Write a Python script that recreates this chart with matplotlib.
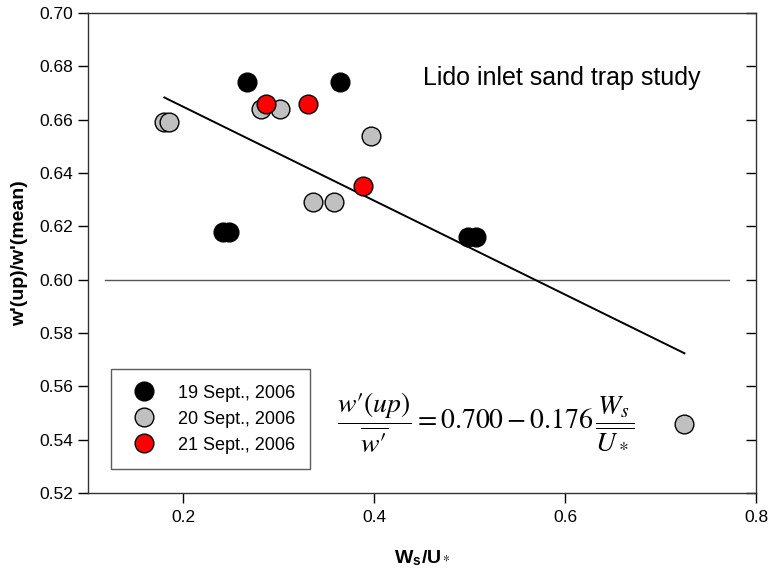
import numpy as np
import matplotlib
matplotlib.use("Agg")
import matplotlib.pyplot as plt

plt.rcParams['font.family'] = ['Liberation Sans', 'DejaVu Sans']
plt.rcParams['mathtext.fontset'] = 'stix'

# Data

x_19 = [0.267, 0.364, 0.241, 0.248, 0.498, 0.507]
y_19 = [0.674, 0.674, 0.618, 0.618, 0.616, 0.616]

x_20 = [0.180, 0.185, 0.281, 0.301, 0.397, 0.336, 0.358, 0.725]
y_20 = [0.659, 0.659, 0.664, 0.664, 0.654, 0.629, 0.629, 0.546]

x_21 = [0.286, 0.330, 0.388]
y_21 = [0.666, 0.666, 0.635]

labels = ["19 Sept., 2006", "20 Sept., 2006", "21 Sept., 2006"]

# Regression given on the chart
a = 0.700
b = -0.176
ref_level = 0.60

fig = plt.figure(figsize=(7.68, 5.75), dpi=100)
ax = fig.add_axes([0.1146, 0.1426, 0.8698, 0.8348])

all_x = np.array(x_19 + x_20 + x_21)
xl = np.array([all_x.min(), all_x.max()])
ax.plot(xl, a + b*xl, color="black", lw=1.4, zorder=2)
ax.plot([0.118, 0.772], [ref_level, ref_level], color="#555555", lw=1.0, zorder=1)

ms = 13.5
ax.plot(x_19, y_19, "o", ms=ms, mfc="black", mec="black", mew=1, label=labels[0], zorder=3)
ax.plot(x_20, y_20, "o", ms=ms, mfc="#C0C0C0", mec="black", mew=1, label=labels[1], zorder=3)
ax.plot(x_21, y_21, "o", ms=ms, mfc="#FF0000", mec="black", mew=1, label=labels[2], zorder=4)

ax.set_xlim(0.1, 0.8)
ax.set_ylim(0.52, 0.70)
ax.set_xticks([0.2, 0.4, 0.6, 0.8])
ax.set_xticklabels(["0.2", "0.4", "0.6", "0.8"])
ax.set_yticks(np.arange(0.52, 0.7001, 0.02))
ax.set_yticklabels(["%.2f" % v for v in np.arange(0.52, 0.7001, 0.02)])
ax.tick_params(axis="both", direction="out", length=7, width=1, labelsize=12.5, colors="black")
ax.tick_params(axis="x", pad=5)
ax.tick_params(axis="y", right=True)
for t in ax.yaxis.get_major_ticks():
    t.tick2line.set_marker(matplotlib.lines.TICKLEFT)
for s in ax.spines.values():
    s.set_linewidth(1.0)
    s.set_color("#333333")

ax.set_xlabel(r"W$_\mathregular{s}$/U$_*$", fontsize=14, fontweight="bold", labelpad=17)
ax.set_ylabel("w'(up)/w'(mean)", fontsize=14, fontweight="bold", labelpad=8)

ax.text(0.451, 0.673, "Lido inlet sand trap study", fontsize=18, va="baseline", ha="left")

ax.text(0.361, 0.547,
        r"$\dfrac{w\prime(up)}{\overline{w\prime}} = 0.700 - 0.176\,\dfrac{W_s}{\overline{U_*}}$",
        fontsize=20, va="center", ha="left")

leg = ax.legend(loc="lower left", bbox_to_anchor=(0.034, 0.05), numpoints=1,
                fontsize=13, frameon=True, fancybox=False, borderpad=0.85,
                handletextpad=0.85, labelspacing=0.5, borderaxespad=0)
leg.get_frame().set_edgecolor("#333333")
leg.get_frame().set_linewidth(1.0)

fig.savefig("out.png", dpi=100)
